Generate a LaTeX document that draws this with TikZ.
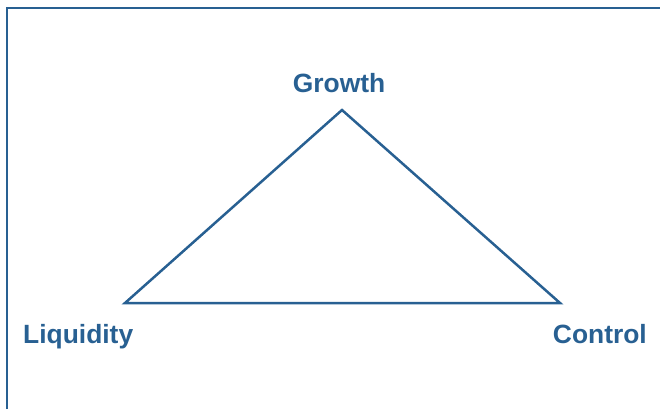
\documentclass[tikz,border=0pt]{standalone}
\usepackage{fontspec}
\setmainfont{Liberation Sans}
\definecolor{navy}{RGB}{40,96,146}
\begin{document}
\begin{tikzpicture}[x=1bp,y=-1bp,
  lbl/.style={font=\fontsize{26.5}{31}\selectfont\bfseries, text=navy, inner sep=0pt},
  edge/.style={draw=navy, line width=2.5bp, line join=miter}]
\useasboundingbox (0,0) rectangle (660,409);
\draw[draw=navy, line width=2.5bp] (7,409) -- (7,8) -- (660,8);
\coordinate (g) at (342,110);
\coordinate (l) at (125,303);
\coordinate (c) at (560,303);
\draw[edge] (g) -- (c) -- (l) -- cycle;
\node[lbl, anchor=base] (tg) at (339,92) {Growth};
\node[lbl, anchor=base west] (tl) at (23,343) {Liquidity};
\node[lbl, anchor=base east] (tc) at (647,343) {Control};
\end{tikzpicture}
\end{document}
